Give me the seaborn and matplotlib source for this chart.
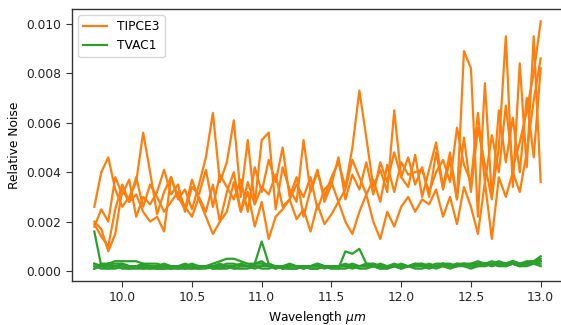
import numpy as np
import pandas as pd
import seaborn as sns
import matplotlib
matplotlib.use("Agg")
import matplotlib.pyplot as plt

# wavelength grid (um), 0.05 step
wavelength = np.linspace(9.8, 13.0, 65)

# TIPCE3 relative noise, units of 1e-3
tipce3_a = [2.6, 4.0, 4.6, 3.3, 2.6, 3.0, 3.6, 5.6, 4.0, 2.3,
            3.2, 3.8, 2.9, 3.3, 2.5, 3.5, 4.6, 6.4, 3.6, 4.4,
            6.1, 3.0, 5.3, 2.7, 5.3, 5.6, 2.5, 4.2, 3.3, 2.8,
            5.3, 3.2, 4.0, 3.0, 3.8, 4.4, 3.4, 5.0, 7.3, 5.4,
            3.4, 4.1, 3.2, 6.5, 3.8, 4.6, 3.5, 4.2, 3.0, 4.8,
            3.3, 4.5, 2.9, 8.9, 8.2, 2.2, 7.6, 3.0, 5.0, 9.5,
            3.4, 8.4, 4.2, 9.5, 3.6]
tipce3_b = [2.0, 1.7, 0.8, 1.5, 3.3, 2.8, 3.8, 2.6, 3.5, 3.0,
            2.4, 2.8, 3.2, 2.6, 2.2, 3.0, 2.4, 3.5, 2.0, 3.2,
            4.0, 2.4, 3.6, 2.7, 3.4, 3.1, 3.9, 2.6, 2.9, 3.5,
            3.0, 3.8, 2.5, 3.3, 3.6, 2.8, 3.3, 4.5, 3.8, 3.1,
            3.7, 2.8, 4.3, 3.2, 4.4, 3.9, 4.0, 4.1, 3.2, 4.0,
            4.5, 3.6, 5.8, 4.3, 3.6, 6.4, 3.6, 5.5, 4.0, 6.7,
            4.2, 5.2, 6.5, 8.0, 10.1]
tipce3_c = [1.9, 1.4, 1.0, 2.5, 3.5, 2.8, 3.1, 2.4, 2.0, 2.2,
            1.6, 3.8, 3.0, 2.5, 3.7, 2.9, 2.2, 1.5, 2.0, 2.4,
            3.6, 2.4, 3.2, 1.8, 2.8, 1.3, 2.2, 2.5, 2.9, 2.1,
            2.5, 1.6, 2.7, 1.9, 2.3, 2.8, 2.0, 1.5, 2.4, 3.1,
            2.0, 1.3, 2.4, 1.8, 2.6, 3.0, 2.4, 2.9, 2.7, 3.3,
            2.2, 3.0, 1.9, 3.4, 2.6, 1.5, 3.6, 1.3, 3.8, 3.0,
            4.0, 3.2, 4.8, 6.9, 8.6]
tipce3_d = [1.8, 2.5, 2.0, 3.8, 3.1, 3.7, 2.2, 3.0, 2.7, 3.2,
            4.1, 3.1, 3.5, 2.4, 3.4, 3.1, 4.1, 2.6, 3.9, 3.4,
            2.9, 3.7, 2.4, 4.2, 3.2, 4.5, 3.6, 5.0, 3.0, 3.8,
            2.2, 3.3, 4.1, 2.8, 3.5, 4.6, 2.9, 3.9, 3.3, 4.4,
            3.1, 4.4, 3.6, 4.8, 3.8, 3.4, 4.7, 3.0, 4.1, 5.2,
            3.4, 4.8, 2.9, 5.4, 3.2, 5.8, 4.3, 2.9, 6.5, 4.4,
            6.2, 4.0, 7.0, 4.6, 8.2]

# TVAC1 relative noise, units of 1e-4
tvac1_a = [16, 2, 3, 2, 2, 1, 2, 2, 1, 2,
           2, 1, 2, 2, 1, 2, 2, 1, 2, 2,
           1, 2, 2, 1, 2, 2, 1, 2, 2, 2,
           1, 2, 2, 1, 2, 2, 2, 1, 2, 2,
           2, 2, 1, 2, 2, 2, 2, 2, 2, 2,
           3, 2, 2, 3, 2, 3, 2, 3, 2, 3,
           3, 2, 3, 3, 3]
tvac1_b = [3, 2, 3, 4, 4, 4, 4, 3, 3, 3,
           2, 2, 2, 3, 2, 2, 2, 3, 4, 5,
           5, 4, 3, 3, 3, 2, 2, 2, 2, 2,
           2, 2, 3, 2, 2, 2, 2, 3, 2, 2,
           2, 3, 2, 2, 3, 2, 3, 2, 3, 2,
           3, 2, 3, 3, 2, 3, 3, 2, 3, 3,
           4, 3, 3, 4, 4]
tvac1_c = [2, 1, 1, 2, 1, 1, 2, 1, 1, 1,
           1, 2, 1, 1, 2, 1, 1, 2, 1, 1,
           2, 3, 2, 3, 12, 3, 1, 2, 1, 1,
           2, 1, 1, 2, 2, 1, 8, 7, 9, 3,
           2, 1, 2, 2, 1, 2, 2, 2, 1, 2,
           2, 2, 2, 3, 2, 2, 3, 2, 3, 2,
           3, 2, 3, 3, 4]
tvac1_d = [1, 2, 1, 1, 2, 1, 1, 1, 2, 1,
           1, 1, 2, 1, 1, 1, 2, 1, 1, 2,
           1, 1, 1, 2, 1, 1, 2, 1, 1, 1,
           2, 1, 1, 2, 1, 1, 1, 2, 1, 1,
           2, 1, 1, 2, 1, 2, 1, 1, 2, 1,
           2, 1, 2, 2, 1, 2, 2, 3, 2, 2,
           3, 2, 2, 3, 2]
tvac1_e = [3, 2, 2, 2, 3, 2, 2, 3, 2, 2,
           3, 2, 2, 2, 3, 2, 2, 2, 3, 2,
           2, 3, 2, 2, 2, 3, 2, 2, 3, 2,
           2, 2, 3, 2, 2, 2, 3, 2, 2, 2,
           3, 2, 2, 3, 2, 2, 2, 3, 2, 3,
           3, 3, 2, 3, 3, 4, 3, 3, 4, 3,
           4, 3, 4, 4, 5]
tvac1_f = [1, 3, 3, 3, 3, 2, 2, 2, 2, 1,
           2, 1, 1, 2, 2, 1, 2, 2, 2, 3,
           3, 2, 2, 3, 4, 2, 2, 1, 2, 2,
           1, 2, 2, 2, 1, 2, 2, 2, 2, 3,
           3, 2, 2, 2, 2, 2, 3, 3, 2, 2,
           3, 2, 3, 2, 3, 3, 3, 4, 3, 3,
           4, 3, 3, 4, 6]

tipce3 = [tipce3_a, tipce3_b, tipce3_c, tipce3_d]
tvac1 = [tvac1_a, tvac1_b, tvac1_c, tvac1_d, tvac1_e, tvac1_f]

rows = []
for i, s in enumerate(tipce3):
    for w, v in zip(wavelength, s):
        rows.append({"wavelength": w, "noise": v * 1e-3, "sensor": "TIPCE3", "run": f"p{i}"})
for i, s in enumerate(tvac1):
    for w, v in zip(wavelength, s):
        rows.append({"wavelength": w, "noise": v * 1e-4, "sensor": "TVAC1", "run": f"v{i}"})
df = pd.DataFrame(rows)

plt.rcParams["font.family"] = ["DejaVu Sans"]
plt.rcParams["font.size"] = 8.8

fig = plt.figure(figsize=(5.61, 3.25), dpi=100)
ax = fig.add_axes([72 / 561, 1 - 281 / 325, (563 - 72) / 561, (281 - 9) / 325])

sns.lineplot(data=df, x="wavelength", y="noise", hue="sensor", units="run",
             estimator=None, palette={"TIPCE3": "#ff7f0e", "TVAC1": "#2ca02c"},
             linewidth=1.6, ax=ax)

for side in ["top", "right", "left", "bottom"]:
    ax.spines[side].set_visible(True)
    ax.spines[side].set_color("#333333")
    ax.spines[side].set_linewidth(1.0)
ax.tick_params(length=4, color="#333333", labelcolor="#222222")

ax.set_xticks([10.0, 10.5, 11.0, 11.5, 12.0, 12.5, 13.0])
ax.set_yticks([0.0, 0.002, 0.004, 0.006, 0.008, 0.010])
ax.set_xlabel("Wavelength $\\mu m$", labelpad=3)
ax.set_ylabel("Relative Noise")
ax.legend(loc="upper left", title=None)

fig.savefig("out.png", dpi=100)
